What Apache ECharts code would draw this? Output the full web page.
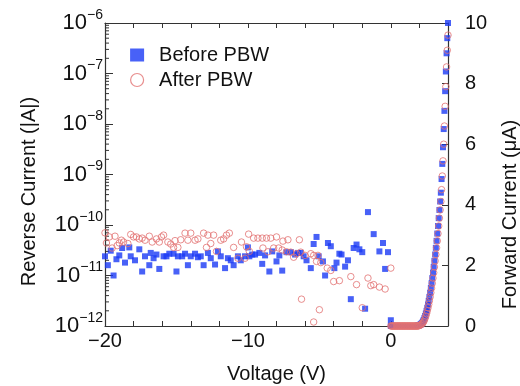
<!DOCTYPE html>
<html>
<head>
<meta charset="utf-8">
<script src="https://cdn.jsdelivr.net/npm/echarts@6/dist/echarts.min.js"></script>
<style>
html, body { margin: 0; padding: 0; background: #fff; }
#chart { width: 520px; height: 386px; }
</style>
</head>
<body>
<div id="chart"></div>
<script>
// reverse bias: [V, |I| in A]
const revBefore = [
    [-20.0, 2.4e-11], [-19.8, 1.6e-11], [-19.6, 3.1e-11], [-19.4, 1.0e-11], [-19.2, 2.1e-11], [-19.0, 2.5e-11],
    [-18.8, 3.5e-11], [-18.6, 1.8e-11], [-18.3, 3.6e-11], [-18.2, 2.4e-11], [-17.9, 2.0e-11], [-17.6, 3.3e-11],
    [-17.4, 1.2e-11], [-17.2, 2.4e-11], [-16.9, 1.6e-11], [-16.8, 2.8e-11], [-16.6, 2.2e-11], [-16.4, 2.6e-11],
    [-16.2, 1.35e-11], [-15.9, 2.4e-11], [-15.7, 2.4e-11], [-15.5, 2.7e-11], [-15.2, 2.7e-11], [-15.0, 1.2e-11],
    [-14.9, 2.4e-11], [-14.6, 2.4e-11], [-14.4, 2.7e-11], [-14.2, 1.6e-11], [-14.0, 2.4e-11], [-13.7, 2.7e-11],
    [-13.5, 2.3e-11], [-13.3, 2.4e-11], [-13.1, 1.6e-11], [-12.8, 2.8e-11], [-12.6, 2.2e-11], [-12.3, 1.65e-11],
    [-12.1, 3.0e-11], [-11.9, 2.4e-11], [-11.6, 1.4e-11], [-11.4, 2.2e-11], [-11.2, 2.0e-11], [-11.0, 1.6e-11],
    [-10.7, 2.4e-11], [-10.5, 2.0e-11], [-10.2, 2.4e-11], [-10.0, 3.6e-11], [-9.9, 2.4e-11], [-9.7, 2.6e-11],
    [-9.5, 2.6e-11], [-9.2, 2.8e-11], [-9.0, 1.7e-11], [-8.8, 2.5e-11], [-8.5, 1.2e-11], [-8.3, 3.0e-11],
    [-8.0, 1.9e-11], [-7.8, 2.5e-11], [-7.6, 1.25e-11], [-7.3, 2.9e-11], [-7.0, 2.9e-11], [-6.7, 2.6e-11],
    [-6.5, 2.8e-11], [-6.3, 2.8e-11], [-6.1, 2.4e-11], [-5.9, 2.0e-11], [-5.6, 1.4e-11], [-5.4, 4.2e-11],
    [-5.2, 5.8e-11], [-5.05, 2.4e-11], [-4.75, 1.9e-11], [-4.6, 1.0e-11], [-4.4, 4.4e-11], [-4.2, 3.8e-11],
    [-3.95, 1.4e-11], [-3.8, 1.8e-11], [-3.6, 2.7e-11], [-3.45, 2.6e-11], [-3.2, 1.5e-11], [-3.0, 2.0e-11],
    [-2.8, 3.4e-12], [-2.6, 3.5e-11], [-2.4, 4.1e-11], [-2.2, 3.3e-11], [-2.0, 2.9e-11], [-1.8, 2.2e-12],
    [-1.6, 1.8e-10], [-1.2, 6.6e-11], [-0.8, 3.0e-11], [-0.55, 4.4e-11], [-0.4, 1.35e-11], [-0.2, 2.9e-11],
    [0.0, 1.3e-12]
];
const revAfter = [
    [-20.0, 7.0e-11], [-19.9, 4.4e-11], [-19.7, 5.8e-11], [-19.5, 3.5e-11], [-19.3, 6.0e-11], [-19.15, 3.9e-11],
    [-19.0, 4.4e-11], [-18.85, 5.0e-11], [-18.7, 4.6e-11], [-18.4, 4.3e-11], [-18.2, 6.5e-11], [-18.0, 5.8e-11],
    [-17.8, 5.8e-11], [-17.6, 5.3e-11], [-17.4, 5.5e-11], [-17.2, 5.0e-11], [-16.9, 6.0e-11], [-16.7, 4.6e-11],
    [-16.4, 5.3e-11], [-16.2, 4.6e-11], [-16.05, 5.8e-11], [-15.9, 6.3e-11], [-15.6, 4.6e-11], [-15.4, 4.2e-11],
    [-15.2, 3.6e-11], [-15.1, 4.9e-11], [-14.9, 3.6e-11], [-14.7, 5.1e-11], [-14.4, 6.9e-11], [-14.2, 5.0e-11],
    [-14.0, 6.9e-11], [-13.7, 5.0e-11], [-13.5, 5.3e-11], [-13.1, 6.9e-11], [-12.9, 3.6e-11], [-12.8, 6.3e-11],
    [-12.6, 4.3e-11], [-12.4, 6.3e-11], [-12.2, 3.0e-11], [-11.9, 5.0e-11], [-11.7, 5.3e-11], [-11.5, 6.3e-11],
    [-11.3, 6.9e-11], [-11.0, 3.6e-11], [-10.7, 2.2e-11], [-10.45, 4.6e-11], [-10.2, 2.2e-11], [-10.1, 3.7e-11],
    [-9.95, 6.6e-11], [-9.9, 3.0e-11], [-9.6, 5.5e-11], [-9.3, 5.5e-11], [-9.0, 5.5e-11], [-8.95, 3.5e-11],
    [-8.7, 5.5e-11], [-8.6, 2.95e-11], [-8.4, 5.5e-11], [-8.2, 3.5e-11], [-8.0, 5.8e-11], [-7.85, 3.5e-11],
    [-7.6, 3.2e-11], [-7.55, 4.8e-11], [-7.3, 2.95e-11], [-7.2, 5.1e-11], [-7.0, 2.9e-11], [-6.8, 2.3e-11],
    [-6.6, 2.7e-11], [-6.4, 5.1e-11], [-6.3, 2.9e-11], [-6.25, 3.4e-12], [-6.0, 2.5e-11], [-5.6, 2.7e-11],
    [-5.4, 2.5e-11], [-5.4, 1.2e-12], [-5.2, 1.9e-11], [-5.1, 2.5e-11], [-5.0, 2.1e-12], [-4.9, 1.8e-11],
    [-4.45, 1.4e-11], [-4.2, 1.26e-11], [-4.0, 7.6e-12], [-3.6, 7.9e-12], [-2.8, 9.5e-12], [-2.4, 6.6e-12],
    [-2.0, 2.3e-12], [-1.6, 8.9e-12], [-1.4, 6.3e-12], [-1.2, 6.6e-12], [-0.8, 5.9e-12], [-0.4, 5.4e-12],
    [0.0, 1.4e-11]
];

// forward bias: voltage grid and current in uA
const fwdVoltage = [
    0, 0.05, 0.1, 0.15, 0.2, 0.25, 0.3, 0.35, 0.4, 0.45, 0.5, 0.55, 0.6, 0.65, 0.7, 0.75, 0.8, 0.85, 0.9, 0.95,
    1.0, 1.05, 1.1, 1.15, 1.2, 1.25, 1.3, 1.35, 1.4, 1.45, 1.5, 1.55, 1.6, 1.65, 1.7, 1.75, 1.8, 1.85, 1.9, 1.95,
    2.0, 2.05, 2.1, 2.15, 2.2, 2.25, 2.3, 2.35, 2.4, 2.45, 2.5, 2.55, 2.6, 2.65, 2.7, 2.75, 2.8, 2.85, 2.9, 2.95,
    3.0, 3.05, 3.1, 3.15, 3.2, 3.25, 3.3, 3.35, 3.4, 3.45, 3.5, 3.55, 3.6, 3.65, 3.7, 3.75, 3.8, 3.85, 3.9, 3.95, 4.0
];
const fwdBefore = [
    0, 0, 0, 0, 0, 0, 0, 0, 0, 0, 0, 0, 0, 0, 0, 0, 0, 0, 0, 0,
    0, 0, 0, 0, 0, 0, 0, 0, 0, 0, 0, 0, 0, 0, 0, 0, 0, 0.01, 0.01, 0.02,
    0.03, 0.04, 0.06, 0.08, 0.11, 0.15, 0.2, 0.26, 0.33, 0.41, 0.5, 0.6, 0.71, 0.83, 0.96, 1.1, 1.25, 1.41, 1.58, 1.76,
    1.95, 2.15, 2.36, 2.58, 2.81, 3.05, 3.3, 3.56, 3.83, 4.11, 4.4, 4.85, 5.35, 5.9, 6.5, 7.1, 7.75, 8.4, 9.0, 9.5, 10.0
];
const fwdAfter = [
    0, 0, 0, 0, 0, 0, 0, 0, 0, 0, 0, 0, 0, 0, 0, 0, 0, 0, 0, 0,
    0, 0, 0, 0, 0, 0, 0, 0, 0, 0, 0, 0, 0, 0, 0, 0, 0, 0, 0, 0.01,
    0.02, 0.03, 0.04, 0.06, 0.08, 0.11, 0.15, 0.2, 0.26, 0.33, 0.41, 0.5, 0.6, 0.71, 0.83, 0.96, 1.1, 1.25, 1.41, 1.58,
    1.76, 1.95, 2.15, 2.36, 2.58, 2.81, 3.05, 3.3, 3.56, 3.83, 4.11, 4.5, 4.95, 5.45, 6.0, 6.6, 7.25, 7.9, 8.55, 9.1, 9.6
];

const xLabels = [-20, -10, 0];
const leftDecades = [-12, -11, -10, -9, -8, -7, -6];
const rightTicks = [0, 2, 4, 6, 8, 10];

const BLUE = '#1a3af5';
const RED = '#e27272';
const FONT = 'Liberation Sans, Arial, sans-serif';

// log minor tick positions (2..9 x 10^n) for the left axis
const minorTicks = [];
leftDecades.slice(0, -1).forEach(e => {
    for (let m = 2; m <= 9; m++) minorTicks.push([-20, m * Math.pow(10, e)]);
});

const minus = s => String(s).replace('-', '\u2212');

const chart = echarts.init(document.getElementById('chart'), null, {renderer: 'canvas'});
chart.setOption({
    animation: false,
    textStyle: {fontFamily: FONT},
    grid: {left: 105, right: 72, top: 23, bottom: 60, outerBoundsMode: 'none', containLabel: false},
    legend: {
        orient: 'vertical',
        left: 125,
        top: 40,
        itemGap: 5,
        itemWidth: 14,
        itemHeight: 13,
        textStyle: {fontSize: 20, color: '#111', fontFamily: FONT, padding: [0, 0, 0, 10]},
        data: [
            {name: 'Before PBW', icon: 'rect', itemStyle: {color: BLUE}},
            {name: 'After PBW', icon: 'circle', itemStyle: {color: 'transparent', borderColor: RED, borderWidth: 1.2}}
        ]
    },
    xAxis: [{
        type: 'value', min: -20, max: 4, interval: 2,
        name: 'Voltage (V)', nameLocation: 'middle', nameGap: 38,
        nameTextStyle: {fontSize: 20, color: '#111', fontFamily: FONT},
        axisLine: {onZero: false, lineStyle: {color: '#333', width: 1.2}},
        axisTick: {inside: true, length: 5, lineStyle: {color: '#333'}},
        axisLabel: {
            fontSize: 20, color: '#111', margin: 5,
            formatter: v => xLabels.includes(v) ? minus(v) : ''
        },
        splitLine: {show: false}
    }, {
        type: 'value', min: -20, max: 4, interval: 2, position: 'top',
        axisLine: {onZero: false, lineStyle: {color: '#333', width: 1.2}},
        axisTick: {inside: true, length: 5, lineStyle: {color: '#333'}},
        axisLabel: {show: false},
        splitLine: {show: false}
    }],
    yAxis: [{
        type: 'log', logBase: 10, min: 1e-12, max: 1e-6, position: 'left',
        name: 'Reverse Current (|A|)', nameLocation: 'middle', nameGap: 66, nameRotate: 90,
        nameTextStyle: {fontSize: 20, color: '#111', fontFamily: FONT, padding: [0, 34, 0, 0]},
        axisLine: {show: true, onZero: false, lineStyle: {color: '#333', width: 1.2}},
        axisTick: {inside: true, length: 8, lineStyle: {color: '#333'}},
        axisLabel: {
            margin: 2,
            formatter: v => {
                const e = Math.round(Math.log10(v));
                return leftDecades.includes(e) ? '{b|10}{s|' + minus(e) + '}' : '';
            },
            rich: {
                b: {fontSize: 22, color: '#111', lineHeight: 30, fontFamily: FONT},
                s: {fontSize: 14, color: '#111', lineHeight: 14, verticalAlign: 'top', fontFamily: FONT}
            }
        },
        splitLine: {show: false}
    }, {
        type: 'value', min: 0, max: 10, interval: 2, position: 'right',
        name: 'Forward Current (\u03bcA)', nameLocation: 'middle', nameGap: 52, nameRotate: 90,
        nameTextStyle: {fontSize: 20, color: '#111', fontFamily: FONT, padding: [0, 80, 0, 0]},
        axisLine: {show: true, onZero: false, lineStyle: {color: '#333', width: 1.2}},
        axisTick: {inside: true, length: 6, lineStyle: {color: '#333'}},
        axisLabel: {
            fontSize: 20, color: '#111', margin: 17,
            formatter: v => rightTicks.includes(v) ? String(v) : ''
        },
        splitLine: {show: false}
    }],
    series: [{
        type: 'custom',
        silent: true,
        xAxisIndex: 0, yAxisIndex: 0,
        clip: false,
        data: minorTicks,
        renderItem: (params, api) => {
            const p = api.coord([api.value(0), api.value(1)]);
            return {
                type: 'line',
                shape: {x1: p[0], y1: p[1], x2: p[0] + 4, y2: p[1]},
                style: {stroke: '#333', lineWidth: 1}
            };
        }
    }, {
        name: 'Before PBW', type: 'scatter', xAxisIndex: 0, yAxisIndex: 0,
        symbol: 'rect', symbolSize: 6,
        itemStyle: {color: BLUE},
        data: revBefore
    }, {
        name: 'Before PBW', type: 'scatter', xAxisIndex: 0, yAxisIndex: 1,
        symbol: 'rect', symbolSize: 6,
        itemStyle: {color: BLUE},
        data: fwdVoltage.map((v, i) => [v, fwdBefore[i]])
    }, {
        name: 'After PBW', type: 'scatter', xAxisIndex: 0, yAxisIndex: 0,
        symbol: 'circle', symbolSize: 6.5,
        itemStyle: {color: 'transparent', borderColor: RED, borderWidth: 1},
        data: revAfter
    }, {
        name: 'After PBW', type: 'scatter', xAxisIndex: 0, yAxisIndex: 1,
        symbol: 'circle', symbolSize: 6.5,
        itemStyle: {color: 'transparent', borderColor: RED, borderWidth: 1},
        data: fwdVoltage.map((v, i) => [v, fwdAfter[i]])
    }]
});
</script>
</body>
</html>
